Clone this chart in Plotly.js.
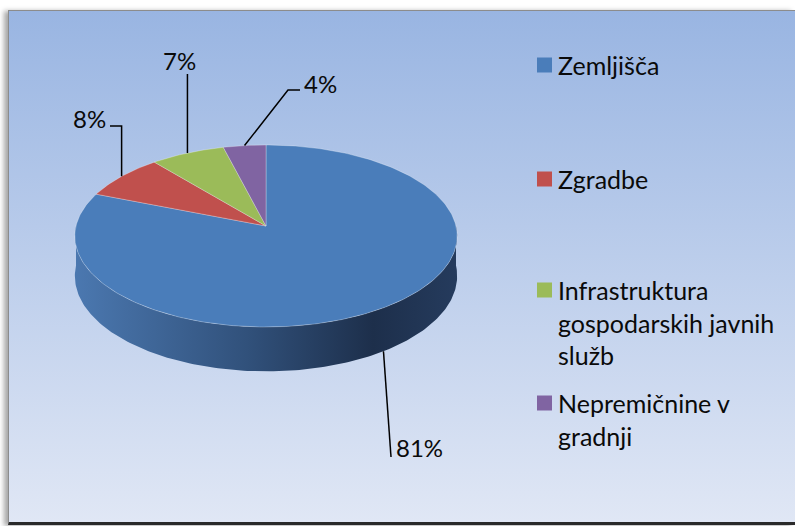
<!DOCTYPE html>
<html><head><meta charset="utf-8">
<script src="https://cdn.plot.ly/plotly-3.0.1.min.js"></script>
<style>
html,body{margin:0;padding:0;background:#fff;width:795px;height:526px;overflow:hidden}
#frame{position:absolute;left:8px;top:10px;width:787px;height:515px;box-sizing:border-box;
 background:linear-gradient(#99b5e2,#e0e7f5);border-top:1px solid #8c8c8c;border-left:1px solid #8c8c8c;
 border-bottom:3px solid #2a2a2a;box-shadow:-4px 1px 5px rgba(0,0,0,0.35)}
#chart{position:absolute;left:0;top:0;width:795px;height:526px}
</style></head><body>
<div id="frame"></div><div id="chart"></div>
<script>
// ---- data ----
const categories = ['Zemljišča', 'Zgradbe', 'Infrastruktura gospodarskih javnih služb', 'Nepremičnine v gradnji'];
const values = [81, 8, 7, 4];
const percentLabels = ['81%', '8%', '7%', '4%'];
const legendLabels = ['Zemljišča', 'Zgradbe', 'Infrastruktura<br>gospodarskih javnih<br>služb', 'Nepremičnine v<br>gradnji'];
const colors = ['#4a7dba', '#c0504d', '#9bbb59', '#8064a2'];

// ---- geometry / style (layout, not data) ----
const G = {cx: 266, apexY: 226, a: 65.07, c: -0.1099, d: 190, depth: 39.5};
function proj(thetaDeg, down) {
  const t = thetaDeg * Math.PI / 180;
  const u = Math.sin(t), v = -Math.cos(t);
  const den = 1 + G.c * v;
  const x = G.cx + G.d * u / den;
  let y = (G.a * v + G.apexY) / den;
  if (down) y += G.depth / den;
  return [x, y];
}
const FONT = 'Lato, "Open Sans", sans-serif';
const total = values.reduce((s, v) => s + v, 0);
const traces = [];

// side (visible front rim), first slice covers the whole front
(function () {
  const xs = [], ys = [];
  for (let th = 90; th <= 270; th += 1) { const p = proj(th, false); xs.push(p[0]); ys.push(p[1]); }
  for (let th = 270; th >= 90; th -= 1) { const p = proj(th, true); xs.push(p[0]); ys.push(p[1]); }
  traces.push({
    type: 'scatter', mode: 'lines', x: xs, y: ys, fill: 'toself', hoverinfo: 'skip', showlegend: false,
    line: {width: 0, color: 'rgba(0,0,0,0)'},
    fillgradient: {type: 'horizontal', colorscale: [[0, '#4b78b0'], [0.45, '#31517b'], [0.78, '#1d2f4b'], [1, '#253b5d']]}
  });
})();

// top faces
let cum = 0;
const mids = [];
values.forEach((v, i) => {
  const start = cum / total * 360, end = (cum + v) / total * 360;
  cum += v;
  mids.push((start + end) / 2);
  const xs = [G.cx], ys = [G.apexY];
  const n = Math.max(4, Math.ceil(end - start));
  for (let k = 0; k <= n; k++) { const p = proj(start + (end - start) * k / n, false); xs.push(p[0]); ys.push(p[1]); }
  xs.push(G.cx); ys.push(G.apexY);
  traces.push({
    type: 'scatter', mode: 'lines', x: xs, y: ys, fill: 'toself', fillcolor: colors[i], name: categories[i],
    line: {width: 0.8, color: 'rgba(255,255,255,0.35)'}, showlegend: false, hoverinfo: 'name'
  });
});

// label placements (layout)
const labelLayout = [
  {tx: 394, ty: 447, xanchor: 'left', down: true, pts: [[391, 457]]},
  {tx: 108, ty: 118, xanchor: 'right', down: false, pts: [[null, 126], [110, 126]]},
  {tx: 179, ty: 60, xanchor: 'center', down: false, pts: [[null, 74]]},
  {tx: 302, ty: 83, xanchor: 'left', down: false, pts: [[288, 90], [300, 90]]}
];
const annotations = [], shapes = [];
values.forEach((v, i) => {
  const L = labelLayout[i];
  const a = proj(mids[i], L.down);
  let path = 'M' + a[0] + ',' + a[1];
  L.pts.forEach(p => { path += ' L' + (p[0] === null ? a[0] : p[0]) + ',' + p[1]; });
  shapes.push({type: 'path', xref: 'x', yref: 'y', path: path, line: {color: '#000', width: 1.5}});
  annotations.push({x: L.tx, y: L.ty, xref: 'x', yref: 'y', text: percentLabels[i], showarrow: false,
    xanchor: L.xanchor, yanchor: 'middle', font: {family: FONT, size: 24, color: '#0a0a0a'}});
});

// legend (drawn)
const legendY = [65, 179, 290, 403];
legendLabels.forEach((t, i) => {
  shapes.push({type: 'rect', xref: 'x', yref: 'y', x0: 537, x1: 552, y0: legendY[i] - 7.5, y1: legendY[i] + 7.5,
    fillcolor: colors[i], line: {width: 0}});
  annotations.push({x: 556, y: legendY[i] - 17, xref: 'x', yref: 'y', text: t, showarrow: false, align: 'left',
    xanchor: 'left', yanchor: 'top', font: {family: FONT, size: 25, color: '#0a0a0a'}});
});

const layout = {
  width: 795, height: 526, margin: {l: 0, r: 0, t: 0, b: 0},
  paper_bgcolor: 'rgba(0,0,0,0)', plot_bgcolor: 'rgba(0,0,0,0)',
  xaxis: {range: [0, 795], visible: false, fixedrange: true},
  yaxis: {range: [526, 0], visible: false, fixedrange: true},
  showlegend: false, shapes: shapes, annotations: annotations
};
Plotly.newPlot('chart', traces, layout, {staticPlot: true});
</script>
</body></html>
